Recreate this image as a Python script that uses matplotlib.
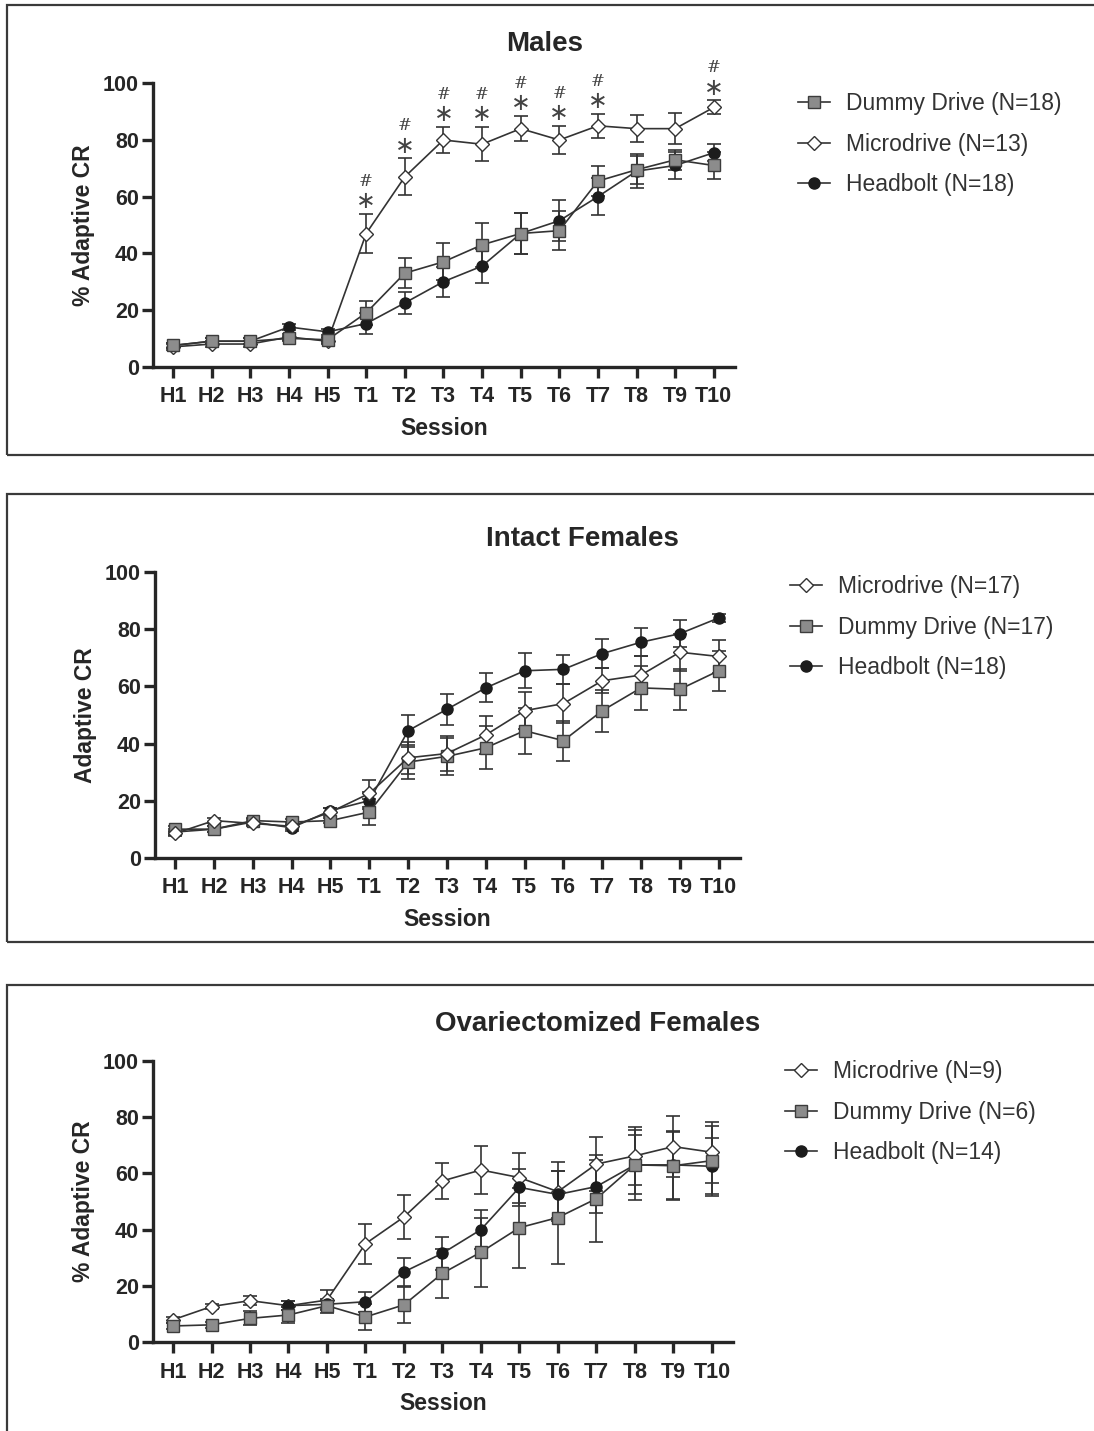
import numpy as np
import matplotlib.pyplot as plt
from matplotlib.patches import Rectangle

# Session labels
sessions = ['H1', 'H2', 'H3', 'H4', 'H5', 'T1', 'T2', 'T3', 'T4', 'T5', 'T6', 'T7', 'T8', 'T9', 'T10']

# Males
male_micro = [7, 8, 8, 10.5, 9, 47, 67, 80, 78.5, 84, 80, 85, 84, 84, 91.5]
male_micro_sem = [1, 1, 1, 1, 1, 7, 6.5, 4.5, 6, 4.5, 5, 4.2, 4.7, 5.5, 2.5]
male_dummy = [7.5, 9, 9, 10, 9.5, 19, 33, 37, 43, 47, 48, 65.5, 69.5, 73, 71]
male_dummy_sem = [1, 1, 1, 1, 1, 4.2, 5.3, 6.5, 7.8, 7.4, 6.8, 5.3, 5, 3.5, 4.8]
male_head = [7.5, 9, 9, 14, 12.3, 15.2, 22.5, 30, 35.5, 47, 51.5, 60, 69, 71, 75.5]
male_head_sem = [1, 1, 1, 1, 1, 3.8, 3.8, 5.3, 6.1, 7.4, 7.2, 6.5, 5.9, 4.7, 3]
male_signif = [5, 6, 7, 8, 9, 10, 11, 14]  # sessions marked with * and #

# Intact females
if_micro = [8.5, 13, 12, 11, 16, 22.5, 35, 36.5, 43, 51.5, 54, 62, 64, 72, 70.5]
if_micro_sem = [1, 1, 1, 1, 1.5, 4.7, 5.5, 6, 6.6, 6.4, 6.8, 4.3, 6.7, 6.5, 5.8]
if_dummy = [10, 10, 13, 12.5, 13, 16, 33.5, 35.5, 38.5, 44.5, 41, 51.5, 59.5, 59, 65.5]
if_dummy_sem = [1, 1, 1, 1, 1, 4.7, 6, 6.5, 7.5, 8, 7, 7.4, 7.8, 7.2, 7]
if_head = [9, 10, 12.5, 10.5, 16.5, 20, 44.5, 52, 59.5, 65.5, 66, 71.5, 75.5, 78.5, 84]
if_head_sem = [1, 1, 1, 1, 1, 3, 5.6, 5.5, 5.1, 6.1, 5, 5.1, 5, 4.7, 1.5]

# Ovariectomized females
ov_micro = [8, 12.7, 14.8, 13, 15, 35, 44.5, 57.3, 61.2, 58.5, 53.5, 63.3, 66.2, 69.5, 67.5]
ov_micro_sem = [1, 1, 1.5, 1.5, 3.5, 7.1, 7.7, 6.3, 8.5, 8.9, 10.4, 9.5, 10.4, 10.9, 10.9]
ov_dummy = [5.8, 6.2, 8.5, 9.7, 13, 9, 13.3, 24.5, 32, 40.7, 44.3, 51, 63, 62.7, 64.5]
ov_dummy_sem = [1, 1, 2.5, 3, 2.5, 4.7, 6.5, 8.6, 12.2, 14.2, 16.6, 15.4, 12.4, 12, 12.4]
ov_head = [np.nan, np.nan, np.nan, 13, 13.5, 14.4, 25, 31.6, 40, 55, 52.5, 55.3, 63, 63, 62.5]
ov_head_sem = [0, 0, 0, 1.5, 1.5, 3.6, 5, 5.9, 6.9, 6.5, 8.5, 9.5, 10.5, 12, 10]

W, H = 1094, 1431
fig = plt.figure(figsize=(W / 100, H / 100), dpi=100)
plt.rcParams['font.family'] = ['Liberation Sans', 'DejaVu Sans']

line_c = '#333333'
styles = {
    'micro': dict(marker='D', markersize=7.3, markerfacecolor='white', markeredgecolor='#333333'),
    'dummy': dict(marker='s', markersize=8.5, markerfacecolor='#8c8c8c', markeredgecolor='#3c3c3c'),
    'head': dict(marker='o', markersize=8, markerfacecolor='#1c1c1c', markeredgecolor='#1c1c1c'),
}


def px_rect(left, right, top, bottom):
    return [left / W, 1 - bottom / H, (right - left) / W, (bottom - top) / H]


def draw_panel(rect, series, order, legend_order, title, title_xy, ylabel, leg_xy):
    ax = fig.add_axes(rect)
    x = np.arange(len(sessions))
    handles = {}
    for key in order:
        vals, sem, label = series[key]
        eb = ax.errorbar(x, vals, yerr=sem, color=line_c, ecolor=line_c, lw=1.2,
                         elinewidth=1.2, capsize=5.2, capthick=1.2, label=label,
                         clip_on=False, **styles[key])
        handles[key] = eb
    ax.set_xlim(-0.52, 14.55)
    ax.set_ylim(0, 100)
    ax.set_yticks([0, 20, 40, 60, 80, 100])
    ax.set_xticks(x)
    ax.set_xticklabels(sessions)
    for s in ['top', 'right']:
        ax.spines[s].set_visible(False)
    for s in ['left', 'bottom']:
        ax.spines[s].set_linewidth(2.4)
        ax.spines[s].set_color('#262626')
    ax.tick_params(axis='both', length=8, width=2.4, color='#262626', labelsize=15.5,
                   labelcolor='#262626')
    ax.tick_params(axis='x', pad=6)
    ax.tick_params(axis='y', pad=2)
    for lab in ax.get_xticklabels() + ax.get_yticklabels():
        lab.set_fontweight('bold')
    ax.set_xlabel('Session', fontsize=16.5, fontweight='bold', color='#262626', labelpad=7)
    ax.set_ylabel(ylabel, fontsize=16.5, fontweight='bold', color='#262626', labelpad=6)
    fig.text(title_xy[0] / W, 1 - title_xy[1] / H, title, ha='center', va='center',
             fontsize=20, fontweight='bold', color='#262626')
    leg = ax.legend([handles[k][0] for k in legend_order],
                    [series[k][2] for k in legend_order],
                    loc='upper left', bbox_to_anchor=(leg_xy[0] / W, 1 - leg_xy[1] / H),
                    bbox_transform=fig.transFigure, frameon=False, fontsize=16.5,
                    handlelength=1.4, handletextpad=0.7, labelspacing=0.77,
                    borderpad=0, borderaxespad=0)
    for t in leg.get_texts():
        t.set_color('#333333')
    return ax


# Males
ax1 = draw_panel(px_rect(153, 735, 83.3, 366.7),
                 {'micro': (male_micro, male_micro_sem, 'Microdrive (N=13)'),
                  'head': (male_head, male_head_sem, 'Headbolt (N=18)'),
                  'dummy': (male_dummy, male_dummy_sem, 'Dummy Drive (N=18)')},
                 ['micro', 'head', 'dummy'], ['dummy', 'micro', 'head'],
                 'Males', (545, 44), '% Adaptive CR', (798, 92))
for i in male_signif:
    top = male_micro[i] + male_micro_sem[i]
    ax1.text(i, top + 4.5, '\u2217', ha='center', va='center', fontsize=17,
             color='#444444', family='DejaVu Sans', clip_on=False)
    ax1.text(i, top + 11.5, '#', ha='center', va='center', fontsize=12,
             color='#444444', family='DejaVu Serif', clip_on=False)

# Intact females
draw_panel(px_rect(155, 740, 572.3, 857.7),
           {'micro': (if_micro, if_micro_sem, 'Microdrive (N=17)'),
            'dummy': (if_dummy, if_dummy_sem, 'Dummy Drive (N=17)'),
            'head': (if_head, if_head_sem, 'Headbolt (N=18)')},
           ['head', 'dummy', 'micro'], ['micro', 'dummy', 'head'],
           'Intact Females', (582, 539), 'Adaptive CR', (790, 575))

# Ovariectomized females
draw_panel(px_rect(153, 733, 1060.7, 1342.3),
           {'micro': (ov_micro, ov_micro_sem, 'Microdrive (N=9)'),
            'dummy': (ov_dummy, ov_dummy_sem, 'Dummy Drive (N=6)'),
            'head': (ov_head, ov_head_sem, 'Headbolt (N=14)')},
           ['micro', 'head', 'dummy'], ['micro', 'dummy', 'head'],
           'Ovariectomized Females', (598, 1024), '% Adaptive CR', (785, 1060))

# Panel frames
for top, bottom in [(5, 455), (494, 942), (985, 1450)]:
    fig.add_artist(Rectangle((7 / W, 1 - bottom / H), 1.1, (bottom - top) / H,
                             transform=fig.transFigure, fill=False, lw=1.6,
                             edgecolor='#3a3a3a', clip_on=False))

fig.savefig('out.png', dpi=100)
